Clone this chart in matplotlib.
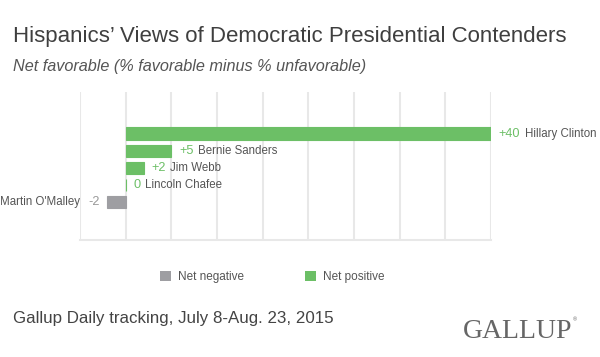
import matplotlib
matplotlib.use('Agg')
import matplotlib.pyplot as plt
from matplotlib.patches import Patch
import numpy as np

plt.rcParams['font.family'] = ['Liberation Sans', 'DejaVu Sans']

names = ['Hillary Clinton', 'Bernie Sanders', 'Jim Webb', 'Lincoln Chafee', "Martin O'Malley"]
net_fav = [40, 5, 2, 0, -2]
value_labels = ['+40', '+5', '+2', '0', '-2']
grid_ticks = list(range(-5, 45, 5))

green = '#6cbf66'
gray = '#9e9ea2'
text_gray = '#555555'

fig = plt.figure(figsize=(6, 3.57), dpi=100)
ax = fig.add_axes([0.1333, 0.3277, 0.685, 0.4146])

ypos = np.arange(len(names))
colors = [green if v >= 0 else gray for v in net_fav]
ax.barh(ypos, net_fav, height=0.73, color=colors, edgecolor=colors, linewidth=0.8, zorder=3)

ax.set_xlim(-5, 40)
ax.set_ylim(6.22, -2.44)
ax.set_xticks(grid_ticks)
ax.set_yticks([])
ax.tick_params(axis='x', length=0, labelbottom=False)
ax.grid(axis='x', color='#e8e8e8', linewidth=1.5, zorder=0)
for s in ['top', 'right', 'left']:
    ax.spines[s].set_visible(False)
ax.spines['bottom'].set_color('#e8e8e8')
ax.spines['bottom'].set_linewidth(1.5)

for y, v, lab, name in zip(ypos, net_fav, value_labels, names):
    if v >= 0:
        t = ax.annotate(lab, xy=(v, y), xytext=(5.5, 0), textcoords='offset points',
                        ha='left', va='center', fontsize=9.2, color=green)
        ax.annotate(name, xy=(1, 0), xycoords=t, xytext=(3.2, 0), textcoords='offset points',
                    ha='left', va='bottom', fontsize=8.3, color=text_gray)
    else:
        t = ax.annotate(lab, xy=(v, y), xytext=(-5.5, 0), textcoords='offset points',
                        ha='right', va='center', fontsize=9.2, color='#999999')
        ax.annotate(name, xy=(0, 0), xycoords=t, xytext=(-6, 0), textcoords='offset points',
                    ha='right', va='bottom', fontsize=8.3, color=text_gray)

handles = [Patch(facecolor=gray, edgecolor='none', label='Net negative'),
           Patch(facecolor=green, edgecolor='none', label='Net positive')]
fig.legend(handles=handles, loc='center left', bbox_to_anchor=(0.256, 0.224), ncol=2,
           frameon=False, fontsize=8.5, handlelength=0.95, handleheight=0.95,
           handletextpad=0.6, columnspacing=5.2, labelcolor=text_gray, borderpad=0)

fig.text(0.022, 0.882, 'Hispanics\u2019 Views of Democratic Presidential Contenders',
         fontsize=16, color='#3f3f3f', va='baseline')
fig.text(0.022, 0.80, 'Net favorable (% favorable minus % unfavorable)',
         fontsize=11.7, style='italic', color='#555555', va='baseline')
fig.text(0.022, 0.096, 'Gallup Daily tracking, July 8-Aug. 23, 2015',
         fontsize=12.2, color='#444444', va='baseline')
fig.text(0.772, 0.054, 'GALLUP', family='Liberation Serif', fontsize=20,
         color='#666666', va='baseline')
fig.text(0.955, 0.1, '\u00ae', fontsize=4, color='#666666', va='baseline')

fig.savefig('out.png', dpi=100)
